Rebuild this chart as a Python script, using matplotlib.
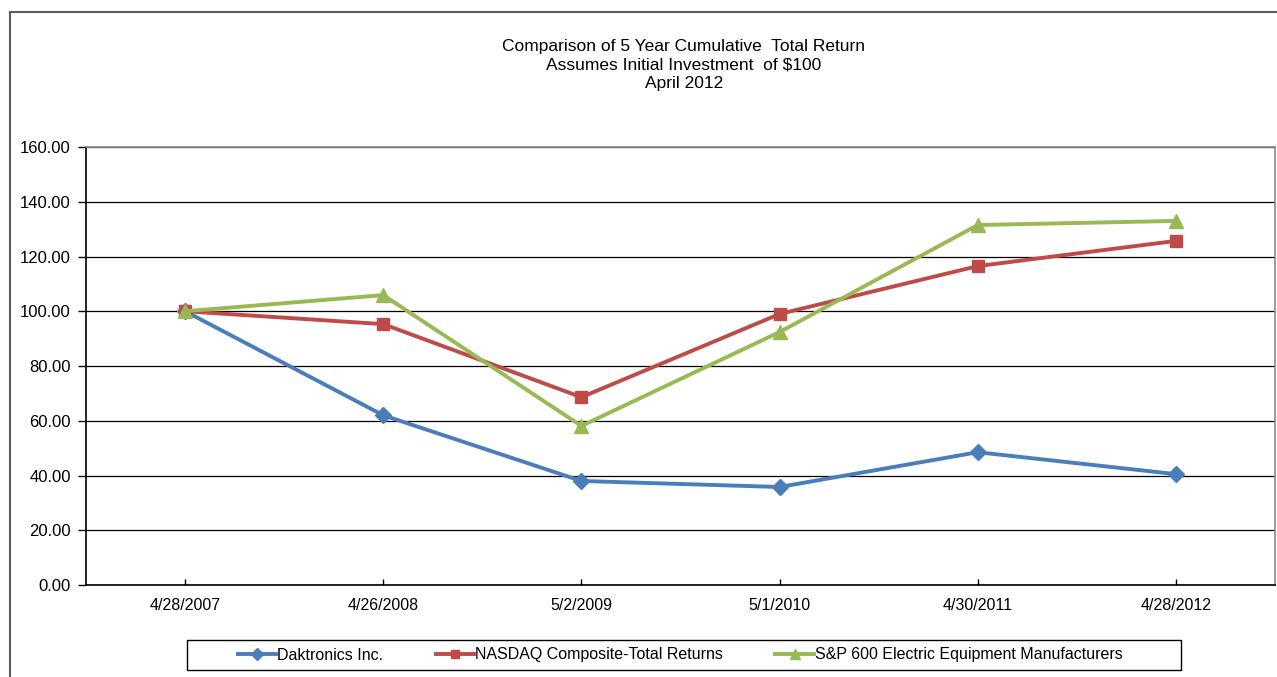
import matplotlib.pyplot as plt
from matplotlib.patches import Rectangle

plt.rcParams['font.family'] = ['Liberation Sans', 'DejaVu Sans']

# Data
dates = ["4/28/2007", "4/26/2008", "5/2/2009", "5/1/2010", "4/30/2011", "4/28/2012"]
daktronics = [100.0, 62.0, 38.0, 35.8, 48.5, 40.5]
nasdaq = [100.0, 95.3, 68.6, 99.0, 116.5, 125.7]
sp600_elec = [100.0, 105.9, 58.1, 92.4, 131.5, 133.0]

series_names = ["Daktronics Inc.", "NASDAQ Composite-Total Returns",
                "S&P 600 Electric Equipment Manufacturers"]
colors = ["#4A7EBB", "#BE4B48", "#98B954"]
markers = ["D", "s", "^"]
msizes = [8, 8.5, 10]

fig = plt.figure(figsize=(12.77, 6.77), dpi=100)
W, H = 1277, 677

# outer chart border
fig.patches.append(Rectangle((10 / W, -0.05), 1.1, 1 - 12 / H + 0.05,
                             transform=fig.transFigure, fill=False,
                             edgecolor="#5a5a5a", linewidth=1.5))

ax = fig.add_axes([86 / W, 1 - 585 / H, (1275 - 86) / W, (585 - 147) / H])

x = list(range(len(dates)))
for vals, name, c, m, ms in zip([daktronics, nasdaq, sp600_elec], series_names,
                                colors, markers, msizes):
    ax.plot(x, vals, color=c, marker=m, markersize=ms, linewidth=2.8,
            label=name, markeredgecolor=c, zorder=3)

ax.set_xlim(-0.5, len(dates) - 0.5)
ax.set_ylim(0, 160)
ax.set_yticks(range(0, 161, 20))
ax.set_yticklabels([f"{v:.2f}" for v in range(0, 161, 20)])
ax.set_xticks(x)
ax.set_xticklabels(dates)
ax.yaxis.grid(True, color="black", linewidth=0.9)
ax.set_axisbelow(True)

ax.tick_params(axis="y", direction="out", length=6, width=1, labelsize=12, pad=5)
ax.tick_params(axis="x", direction="in", length=4, width=1, labelsize=11.5, pad=9)

for side in ["left", "bottom"]:
    ax.spines[side].set_color("black")
    ax.spines[side].set_linewidth(1.2)
for side in ["top", "right"]:
    ax.spines[side].set_color("#8c8c8c")
    ax.spines[side].set_linewidth(1.2)

fig.text(684 / W, 1 - 65 / H, "Comparison of 5 Year Cumulative  Total Return\n"
         "Assumes Initial Investment  of $100\nApril 2012",
         ha="center", va="center", fontsize=12.5, linespacing=1.3)

# legend box
fig.patches.append(Rectangle((187 / W, 1 - 670 / H), (1181 - 187) / W, 30 / H,
                             transform=fig.transFigure, fill=False,
                             edgecolor="black", linewidth=1.0))
leg = fig.legend(loc="center", bbox_to_anchor=(680 / W, 1 - 655 / H), ncol=3,
                 frameon=False, fontsize=11.5, handlelength=2.4,
                 handletextpad=0.05, columnspacing=3.3, markerscale=0.75)

fig.savefig("out.png", dpi=100)
